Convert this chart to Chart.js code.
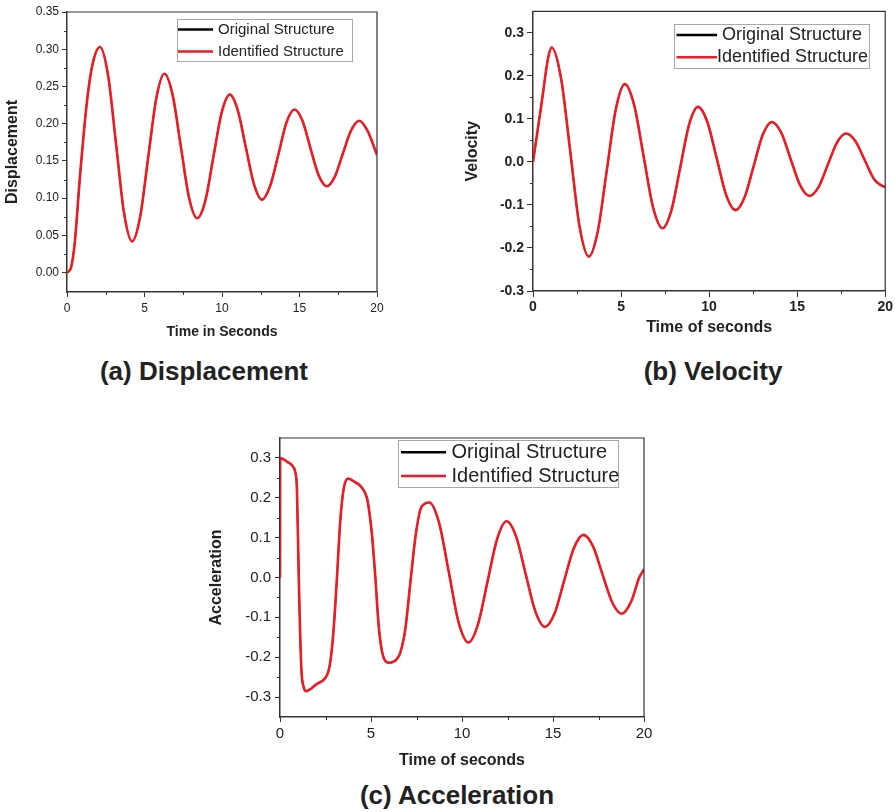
<!DOCTYPE html>
<html>
<head>
<meta charset="utf-8">
<script src="https://cdn.jsdelivr.net/npm/chart.js@4.4.0/dist/chart.umd.min.js"></script>
<style>
  body { margin: 0; background: #fff; width: 895px; height: 812px; position: relative; overflow: hidden;
         font-family: "Liberation Sans", Arial, sans-serif; }
  canvas { position: absolute; }
  .cap { position: absolute; font-weight: bold; font-size: 26px; line-height: 30px; color: #222;
         white-space: nowrap; transform: translateX(-50%); }
</style>
</head>
<body>
<canvas id="chartA" width="390" height="345" style="left:0;top:0"></canvas>
<canvas id="chartB" width="440" height="345" style="left:455px;top:0"></canvas>
<canvas id="chartC" width="470" height="345" style="left:195px;top:425px"></canvas>
<div class="cap" style="left:204px;top:356px">(a) Displacement</div>
<div class="cap" style="left:713px;top:356px">(b) Velocity</div>
<div class="cap" style="left:457px;top:780px">(c) Acceleration</div>

<script>
const seriesNames = ['Original Structure', 'Identified Structure'];
const timeTicks = [0, 5, 10, 15, 20];
const dispTicks = [0, 0.05, 0.10, 0.15, 0.20, 0.25, 0.30, 0.35];
const velTicks = [-0.3, -0.2, -0.1, 0, 0.1, 0.2, 0.3];
const accTicks = [-0.3, -0.2, -0.1, 0, 0.1, 0.2, 0.3];

// (a) displacement
const dispT = [0, 0.25, 0.5, 0.84, 1.3, 1.65, 2.13, 2.65, 3.17, 3.68, 4.2, 4.72, 5.24, 5.76, 6.28, 6.81, 7.34, 7.87, 8.4,
  8.93, 9.45, 9.98, 10.5, 11.02, 11.54, 12.06, 12.58, 13.1, 13.63, 14.15, 14.67, 15.19, 15.71, 16.23, 16.75,
  17.28, 17.8, 18.33, 18.86, 19.4, 20];
const dispV = [0, 0.006, 0.04, 0.13, 0.232, 0.28, 0.303, 0.265, 0.172, 0.080, 0.042, 0.075, 0.155, 0.234, 0.267,
  0.239, 0.170, 0.101, 0.073, 0.097, 0.156, 0.215, 0.239, 0.218, 0.168, 0.119, 0.098, 0.116, 0.158, 0.201, 0.219,
  0.204, 0.167, 0.131, 0.116, 0.129, 0.160, 0.191, 0.204, 0.19, 0.158];

// (b) velocity
const velT = [0, 0.5, 0.85, 1.06, 1.59, 2.12, 2.64, 3.17, 3.68, 4.19, 4.70, 5.21, 5.745, 6.28, 6.815, 7.35, 7.855,
  8.36, 8.865, 9.37, 9.9, 10.435, 10.97, 11.5, 12.015, 12.53, 13.045, 13.56, 14.095, 14.63, 15.165, 15.7, 16.22,
  16.74, 17.26, 17.78, 18.31, 18.84, 19.37, 19.75, 20];
const velV = [0, 0.14, 0.24, 0.266, 0.195, 0.023, -0.149, -0.22, -0.161, -0.0195, 0.122, 0.181, 0.132, 0.0135,
  -0.105, -0.154, -0.113, -0.013, 0.087, 0.128, 0.093, 0.008, -0.077, -0.112, -0.082, -0.0095, 0.063, 0.093, 0.068,
  0.007, -0.054, -0.079, -0.058, -0.0065, 0.045, 0.066, 0.048, 0.004, -0.04, -0.054, -0.058];

// (c) acceleration
const accT = [0, 0.01, 0.4, 0.75, 0.84, 0.93, 1.03, 1.17, 1.3, 1.42, 2.0, 2.49, 2.67, 2.8, 2.95, 3.13, 3.31, 3.5,
  3.74, 4.1, 4.47, 4.78, 4.92, 5.05, 5.24, 5.42, 5.7, 6.0, 6.52, 6.72, 6.89, 7.16, 7.44, 7.71, 7.95, 8.2, 8.74,
  9.28, 9.81, 10.35, 10.875, 11.4, 11.925, 12.45, 12.98, 13.5, 14.03, 14.56, 15.09, 15.61, 16.14, 16.67, 17.2,
  17.72, 18.25, 18.77, 19.3, 19.74, 20];
const accV = [0, 0.3, 0.29, 0.276, 0.264, 0.223, 0.003, -0.226, -0.275, -0.285, -0.268, -0.252, -0.234, -0.2,
  -0.128, 0.0, 0.141, 0.223, 0.248, 0.24, 0.227, 0.199, 0.16, 0.109, 0.0, -0.12, -0.202, -0.214, -0.198, -0.17,
  -0.128, -0.014, 0.101, 0.17, 0.185, 0.188, 0.137, 0.0125, -0.112, -0.163, -0.118, -0.011, 0.096, 0.141, 0.102,
  0.0085, -0.085, -0.124, -0.09, -0.0085, 0.073, 0.107, 0.078, 0.008, -0.062, -0.091, -0.06, 0.0, 0.02];

Chart.defaults.font.family = '"Liberation Sans", Arial, sans-serif';
Chart.defaults.color = '#222';

// top/right frame lines + minor ticks halfway between major ticks
const framePlugin = {
  id: 'frame',
  afterDraw(chart) {
    const { ctx, chartArea: a, scales } = chart;
    ctx.save();
    ctx.strokeStyle = '#333';
    ctx.lineWidth = 1.2;
    ctx.beginPath();
    ctx.moveTo(a.left, a.top);
    ctx.lineTo(a.right, a.top);
    ctx.lineTo(a.right, a.bottom);
    ctx.stroke();
    ctx.lineWidth = 1;
    ctx.beginPath();
    const xt = scales.x.ticks;
    for (let i = 0; i < xt.length - 1; i++) {
      const px = Math.round(scales.x.getPixelForValue((xt[i].value + xt[i + 1].value) / 2)) + 0.5;
      ctx.moveTo(px, a.bottom);
      ctx.lineTo(px, a.bottom + 3);
    }
    const yt = scales.y.ticks;
    for (let i = 0; i < yt.length - 1; i++) {
      const py = Math.round(scales.y.getPixelForValue((yt[i].value + yt[i + 1].value) / 2)) + 0.5;
      ctx.moveTo(a.left, py);
      ctx.lineTo(a.left - 3, py);
    }
    ctx.stroke();
    ctx.restore();
  }
};

// boxed legend inside the plot
const boxLegend = {
  id: 'boxLegend',
  afterDraw(chart, args, o) {
    if (!o || o.x === undefined) return;
    const ctx = chart.ctx;
    ctx.save();
    ctx.fillStyle = '#fff';
    ctx.fillRect(o.x, o.y, o.w, o.h);
    ctx.strokeStyle = '#a8a8a8';
    ctx.lineWidth = 1;
    ctx.strokeRect(o.x + 0.5, o.y + 0.5, o.w, o.h);
    ctx.font = o.size + 'px "Liberation Sans", Arial, sans-serif';
    ctx.textBaseline = 'middle';
    chart.data.datasets.forEach((ds, i) => {
      const cy = o.y + o.rows[i];
      ctx.strokeStyle = ds.borderColor;
      ctx.lineWidth = 2.5;
      ctx.beginPath();
      ctx.moveTo(o.x + o.line[0], cy);
      ctx.lineTo(o.x + o.line[1], cy);
      ctx.stroke();
      ctx.fillStyle = '#222';
      ctx.fillText(ds.label, o.x + o.textX[i], cy);
    });
    ctx.restore();
  }
};

function pts(xs, ys) {
  return xs.map((x, i) => ({ x: x, y: ys[i] }));
}

function makeChart(id, c) {
  const data = pts(c.xs, c.ys);
  return new Chart(document.getElementById(id), {
    type: 'line',
    data: {
      datasets: [
        // the original curve sits right under the identified one, so it is kept a bit thinner
        { label: seriesNames[0], data: data, borderColor: '#000', borderWidth: 1.6, pointRadius: 0,
          cubicInterpolationMode: 'monotone', order: 1 },
        { label: seriesNames[1], data: data, borderColor: 'rgb(237,28,36)', borderWidth: 2.6, pointRadius: 0,
          cubicInterpolationMode: 'monotone', order: 0 }
      ]
    },
    options: {
      responsive: false,
      animation: false,
      layout: { padding: c.pad },
      plugins: { legend: { display: false }, tooltip: { enabled: false }, boxLegend: c.legend },
      scales: {
        x: {
          type: 'linear', min: 0, max: 20,
          afterBuildTicks: (s) => { s.ticks = timeTicks.map(v => ({ value: v })); },
          afterFit: (s) => { s.height = c.xh; },
          grid: { drawOnChartArea: false, tickLength: c.tl, tickColor: '#333' },
          border: { color: '#333', width: 1.5 },
          ticks: { font: c.tickFont, padding: c.xpad, color: '#222', callback: v => String(v) },
          title: { display: true, text: c.xTitle, font: c.titleFont, padding: { top: 0, bottom: c.xtPad }, color: '#222' }
        },
        y: {
          min: c.ymin, max: c.ymax,
          afterBuildTicks: (s) => { s.ticks = c.yticks.map(v => ({ value: v })); },
          afterFit: (s) => { s.width = c.yw; },
          grid: { drawOnChartArea: false, tickLength: c.tl, tickColor: '#333' },
          border: { color: '#333', width: 1.5 },
          ticks: { font: c.tickFont, padding: c.ypad, color: '#222', callback: v => v.toFixed(c.dec) },
          title: { display: true, text: c.yTitle, font: { size: 16, weight: 'bold' }, padding: { top: c.ytPad, bottom: 0 }, color: '#222' }
        }
      }
    },
    plugins: [framePlugin, boxLegend]
  });
}

makeChart('chartA', {
  xs: dispT, ys: dispV, ymin: -0.026, ymax: 0.35, yticks: dispTicks, dec: 2,
  pad: { top: 12, right: 13, left: 0, bottom: 0 }, yw: 67, xh: 53, tl: 5,
  tickFont: { size: 12 }, xpad: 4, ypad: 3,
  xTitle: 'Time in Seconds', titleFont: { size: 14, weight: 'bold' }, xtPad: 4,
  yTitle: 'Displacement', ytPad: 3,
  legend: { x: 177, y: 19, w: 175, h: 42, size: 15, line: [1, 36], textX: [41, 41], rows: [10.5, 32.5] }
});

makeChart('chartB', {
  xs: velT, ys: velV, ymin: -0.3, ymax: 0.35, yticks: velTicks, dec: 1,
  pad: { top: 9, right: 9, left: 0, bottom: 0 }, yw: 78, xh: 54, tl: 6,
  tickFont: { size: 14, weight: 'bold' }, xpad: 2, ypad: 3,
  xTitle: 'Time of seconds', titleFont: { size: 16, weight: 'bold' }, xtPad: 8,
  yTitle: 'Velocity', ytPad: 8,
  legend: { x: 219, y: 24, w: 195, h: 44, size: 18, line: [2.5, 43], textX: [48, 43], rows: [11, 33.3] }
});

makeChart('chartC', {
  xs: accT, ys: accV, ymin: -0.35, ymax: 0.35, yticks: accTicks, dec: 1,
  pad: { top: 7, right: 21, left: 0, bottom: 0 }, yw: 85, xh: 53, tl: 5,
  tickFont: { size: 15 }, xpad: 3, ypad: 4,
  xTitle: 'Time of seconds', titleFont: { size: 16, weight: 'bold' }, xtPad: 0,
  yTitle: 'Acceleration', ytPad: 12,
  legend: { x: 203, y: 15, w: 220, h: 47, size: 20, line: [3, 48], textX: [53.5, 53.5], rows: [12.3, 36] }
});
</script>
</body>
</html>
